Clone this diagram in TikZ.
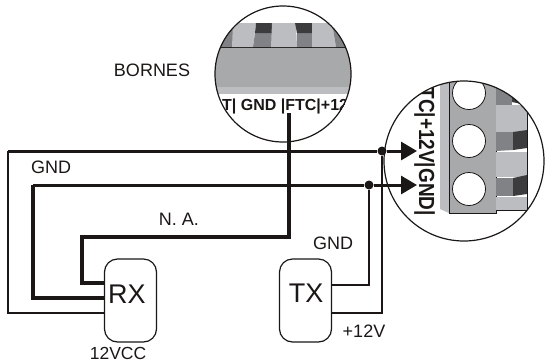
\documentclass[tikz,border=0pt]{standalone}
\usepackage{fontspec}
\setmainfont{Liberation Sans}
\usetikzlibrary{arrows.meta,calc}
\definecolor{wirecol}{HTML}{1A1716}
\definecolor{bodygray}{HTML}{A8A9AB}
\definecolor{lightgray2}{HTML}{BCBDC0}
\definecolor{midgray}{HTML}{808285}
\definecolor{darkgray2}{HTML}{3C3C3E}
\tikzset{
	label/.style={font=\fontsize{18}{20}\selectfont,text=wirecol,inner sep=0pt},
	big label/.style={font=\fontsize{27}{30}\selectfont,text=wirecol,inner sep=0pt},
	module/.style={draw=wirecol,line width=1.2pt,rounded corners=13pt,minimum width=52pt,minimum height=83pt,inner sep=0pt},
	bold wire/.style={draw=wirecol,line width=4pt},
	feed wire/.style={draw=wirecol,line width=3pt},
	mid wire/.style={draw=wirecol,line width=2.4pt},
	junction/.style={circle,fill=wirecol,inner sep=0pt,minimum size=9pt},
	lens/.style={draw=wirecol,line width=1.2pt},
	pin text/.style={font=\fontsize{16}{18}\selectfont\bfseries,text=wirecol,inner sep=0pt}
}
\begin{document}
\begin{tikzpicture}[x=1pt,y=-1pt]
	\useasboundingbox (0,0) rectangle (545,362);
	% top lens
	\coordinate (lenstop) at (283,74);
	\begin{scope}
		\clip (lenstop) circle (68);
		\fill[bodygray] (200,47) rectangle (360,87);
		\fill[lightgray2] (200,87) rectangle (360,94);
		\draw[wirecol,line width=0.8pt] (200,47) -- (360,47);
		\fill[midgray] (200,47) -- (232,47) -- (236,23) -- (200,23) -- cycle;
		\fill[lightgray2] (232,47) -- (253,47) -- (256,23) -- (233,23) -- cycle;
		\fill[midgray] (253,47) -- (272,47) -- (272,33) -- (255,33) -- cycle;
		\fill[darkgray2] (255,33) -- (272,33) -- (273,23) -- (256,23) -- cycle;
		\fill[lightgray2] (271,47) -- (297,47) -- (296,23) -- (272,23) -- cycle;
		\fill[midgray] (297,47) -- (312,47) -- (314,33) -- (297,33) -- cycle;
		\fill[darkgray2] (297,33) -- (314,33) -- (312,23) -- (295,23) -- cycle;
		\fill[lightgray2] (312,47) -- (336,47) -- (332,23) -- (312,23) -- cycle;
		\fill[midgray] (336,47) -- (360,47) -- (360,23) -- (332,23) -- cycle;
		\node[pin text,anchor=base west] (pinstop) at (222,110) {T| GND |FTC|+12};
	\end{scope}
	\draw[lens] (lenstop) circle (68);
	% right lens
	\coordinate (lensright) at (464,161);
	\begin{scope}
		\clip (lensright) circle (80);
		\fill[bodygray] (449,70) rectangle (496,213);
		\fill[lightgray2] (440,70) -- (449,70) -- (449,213) -- (440,209) -- cycle;
		\draw[wirecol,line width=0.8pt] (449,70) -- (449,213) -- (496,213) -- (496,70);
		\foreach \holey in {93,141,189}
			\filldraw[fill=white,draw=wirecol,line width=0.8pt] (469,\holey) circle (16.5);
		\fill[lightgray2] (496,105) rectangle (527,132);
		\fill[lightgray2] (496,152) rectangle (527,177);
		\fill[lightgray2] (496,197) rectangle (527,210);
		\fill[midgray] (496,80) -- (512,80) -- (512,105) -- (496,105) -- cycle;
		\fill[darkgray2] (512,80) -- (527,80) -- (527,105) -- (512,102) -- cycle;
		\fill[midgray] (496,132) -- (513,132) -- (513,150) -- (496,151) -- cycle;
		\fill[darkgray2] (513,132) -- (527,130) -- (527,148) -- (513,150) -- cycle;
		\fill[midgray] (496,178) -- (513,178) -- (513,196) -- (496,196) -- cycle;
		\fill[darkgray2] (513,178) -- (527,175) -- (527,194) -- (513,196) -- cycle;
		\draw[wirecol,line width=0.8pt] (527,70) -- (527,210) -- (496,210);
		\node[pin text,rotate=-90,anchor=base east,font=\fontsize{19}{21}\selectfont\bfseries,yscale=1.15] (pinsright) at (419,216) {TC|+12V|GND|};
	\end{scope}
	\draw[lens] (lensright) circle (80);
	% modules
	\node[module] (rx) at (130.5,300.5) {};
	\node[big label] (rxlabel) at (127,294) {RX};
	\node[module] (tx) at (305.5,300.5) {};
	\node[big label] (txlabel) at (306,293) {TX};
	% labels
	\node[label] (bornes) at (152,70) {BORNES};
	\node[label] (gndleft) at (51,167) {GND};
	\node[label] (na) at (179,219) {N. A.};
	\node[label] (gndtx) at (333,243) {GND};
	\node[label,font=\fontsize{17.5}{20}\selectfont] (vcc) at (118,353.5) {12VCC};
	\node[label] (plus) at (364,331) {+12V};
	% junctions and wire ends
	\node[junction] (dotplus) at (382,151) {};
	\node[junction] (dotgnd) at (369,185) {};
	\coordinate (ftcpin) at (289,113);
	\coordinate (gndcorner) at (33,185);
	\coordinate (tipplus) at (417,151);
	\coordinate (tipgnd) at (417,185);
	% wires
	\draw[bold wire] (ftcpin) |- (82,237) |- (rx.west |- 0,283);
	\draw[bold wire] (rx.west |- 0,298) -| (gndcorner);
	\draw[feed wire] (gndcorner) -- (dotgnd);
	\draw[mid wire] (rx.west |- 0,313) -| (8,151);
	\draw[feed wire] (8,151) -- (dotplus);
	\draw[mid wire] (tx.east |- 0,285) -| (dotgnd);
	\draw[mid wire] (tx.east |- 0,313) -| (dotplus);
	\draw[feed wire,-{Triangle[length=16pt,width=18pt]}] (dotplus) -- (tipplus);
	\draw[feed wire,-{Triangle[length=16pt,width=18pt]}] (dotgnd) -- (tipgnd);
\end{tikzpicture}
\end{document}
